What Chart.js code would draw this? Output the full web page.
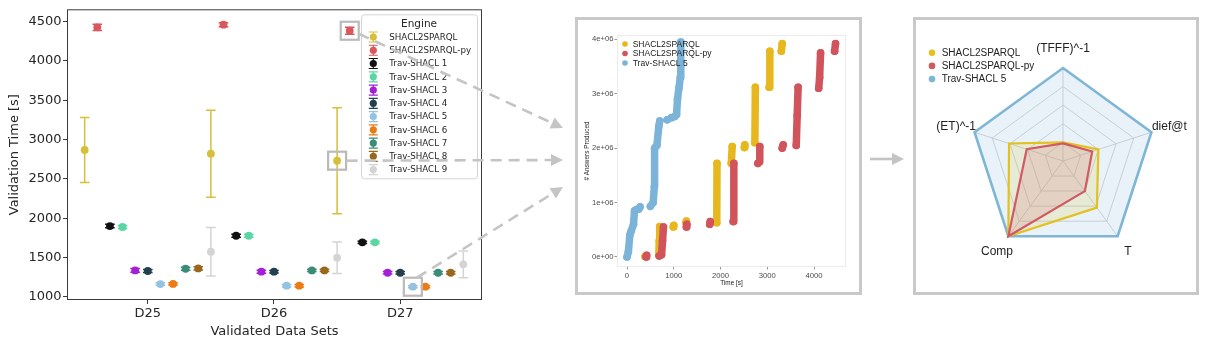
<!DOCTYPE html>
<html><head><meta charset="utf-8">
<script src="https://cdn.jsdelivr.net/npm/chart.js@4.4.1/dist/chart.umd.min.js"></script>
<style>
html,body{margin:0;padding:0;background:#fff;width:1205px;height:343px;overflow:hidden;position:relative}
canvas{display:block}
#c1{position:absolute;left:0;top:0}
.panel{position:absolute;box-sizing:border-box;border:3px solid #c9c9c9;background:#fff}
#p2{left:575px;top:17px;width:287px;height:278px}
#p3{left:913px;top:17px;width:286px;height:278px}
#ov{position:absolute;left:0;top:0;pointer-events:none}
</style></head><body>
<canvas id="c1" width="490" height="343"></canvas>
<div class="panel" id="p2"><canvas id="c2" width="281" height="272"></canvas></div>
<div class="panel" id="p3"><canvas id="c3" width="280" height="272"></canvas></div>
<canvas id="ov" width="1205" height="343"></canvas>
<script>
// ---------- Left panel: validation time per engine ----------
const dataSets = ['D25', 'D26', 'D27'];
const yTicks = [1000, 1500, 2000, 2500, 3000, 3500, 4000, 4500];
const engines = ['SHACL2SPARQL', 'SHACL2SPARQL-py', 'Trav-SHACL 1', 'Trav-SHACL 2', 'Trav-SHACL 3',
  'Trav-SHACL 4', 'Trav-SHACL 5', 'Trav-SHACL 6', 'Trav-SHACL 7', 'Trav-SHACL 8', 'Trav-SHACL 9'];
const engineColors = ['#d6bf3a', '#d9575d', '#111111', '#5ad6a4', '#a41fd8', '#243f4d',
  '#93c2e2', '#ec7b16', '#3a8c79', '#99681c', '#d4d4d4'];
// mean validation time [s] for D25, D26, D27
const timeS2S   = [2867, 2820, 2731];
const timeS2SPy = [4428, 4462, 4385];
const timeTrav1 = [1899, 1776, 1692];
const timeTrav2 = [1887, 1776, 1692];
const timeTrav3 = [1335, 1318, 1305];
const timeTrav4 = [1327, 1318, 1305];
const timeTrav5 = [1161, 1140, 1127];
const timeTrav6 = [1163, 1140, 1127];
const timeTrav7 = [1356, 1335, 1305];
const timeTrav8 = [1360, 1335, 1305];
const timeTrav9 = [1573, 1496, 1412];
// error bar half widths [s]
const errS2S   = [415, 553, 675];
const errS2SPy = [40, 25, 45];
const errTrav1 = [22, 18, 15];
const errTrav2 = [18, 18, 15];
const errTrav3 = [25, 18, 15];
const errTrav4 = [20, 15, 15];
const errTrav5 = [15, 15, 12];
const errTrav6 = [15, 15, 12];
const errTrav7 = [18, 15, 15];
const errTrav8 = [20, 15, 15];
const errTrav9 = [308, 200, 170];

const meanTimes = [timeS2S, timeS2SPy, timeTrav1, timeTrav2, timeTrav3, timeTrav4, timeTrav5, timeTrav6, timeTrav7, timeTrav8, timeTrav9];
const errTimes = [errS2S, errS2SPy, errTrav1, errTrav2, errTrav3, errTrav4, errTrav5, errTrav6, errTrav7, errTrav8, errTrav9];
const highlighted = [[1, 2], [0, 2], [6, 2]]; // [engine index, data set index]

// ---------- Middle panel: answer traces ----------
const timeTicks = [0, 1000, 2000, 3000, 4000];
const answerTicks = [0, 1e6, 2e6, 3e6, 4e6];
const answerTickLabels = ['0e+00', '1e+06', '2e+06', '3e+06', '4e+06'];
// [time s, answers]; [null,null] separates bursts
const traceS2S = [
  [385, 0.01e6], [null, null],
  [680, 0.03e6], [690, 0.3e6], [700, 0.56e6], [null, null],
  [990, 0.55e6], [1000, 0.58e6], [null, null],
  [1260, 0.63e6], [1270, 0.66e6], [null, null],
  [1920, 0.63e6], [1925, 1.72e6], [null, null],
  [2230, 1.72e6], [2250, 2.03e6], [null, null],
  [2510, 2.01e6], [2520, 2.06e6], [null, null],
  [2735, 2.1e6], [2745, 3.12e6], [null, null],
  [3040, 3.12e6], [3055, 3.78e6], [null, null],
  [3300, 3.78e6], [3320, 3.92e6]
];
const traceS2SPy = [
  [410, 0.0], [420, 0.03e6], [null, null],
  [690, 0.02e6], [740, 0.04e6], [760, 0.3e6], [780, 0.55e6], [null, null],
  [1270, 0.55e6], [1280, 0.6e6], [null, null],
  [1770, 0.6e6], [1780, 0.65e6], [null, null],
  [2270, 0.65e6], [2285, 1.72e6], [null, null],
  [2800, 1.72e6], [2830, 1.75e6], [2840, 2.03e6], [null, null],
  [3320, 2.0e6], [3340, 2.06e6], [null, null],
  [3620, 2.05e6], [3640, 2.6e6], [3660, 3.12e6], [null, null],
  [4100, 3.1e6], [4120, 3.3e6], [4140, 3.75e6], [null, null],
  [4440, 3.78e6], [4460, 3.92e6]
];
const traceTrav5 = [
  [0, 0], [30, 0.1e6], [60, 0.4e6], [90, 0.48e6], [140, 0.6e6], [160, 0.85e6], [200, 0.87e6], [null, null],
  [250, 0.88e6], [280, 0.92e6], [null, null],
  [500, 0.93e6], [560, 1.0e6], [585, 1.3e6], [590, 2.0e6], [640, 2.05e6], [680, 2.4e6], [700, 2.5e6], [null, null],
  [860, 2.52e6], [null, null], [950, 2.56e6], [null, null], [1020, 2.58e6], [null, null],
  [1060, 2.62e6], [1080, 2.9e6], [1110, 3.1e6], [1140, 3.3e6], [1150, 3.95e6]
];

// ---------- Right panel: radar ----------
const radarAxes = ['(TFFF)^-1', 'dief@t', 'T', 'Comp', '(ET)^-1'];
const radarS2S   = [0.20, 0.40, 0.62, 1.0, 0.61];
const radarS2SPy = [0.19, 0.33, 0.40, 1.0, 0.41];
const radarTrav5 = [1.0, 1.0, 1.0, 1.0, 1.0];

// ================= Left chart =================
const dodge = engines.map((_, i) => -0.5 + i * 0.1);
const leftDatasets = engines.map((name, i) => ({
  label: name,
  data: dataSets.map((_, j) => ({ x: j + dodge[i], y: meanTimes[i][j] })),
  backgroundColor: engineColors[i],
  borderColor: engineColors[i],
  pointRadius: 3.9, pointHoverRadius: 3.9, pointBorderWidth: 0
}));

const leftDecor = {
  id: 'leftDecor',
  beforeDatasetsDraw(chart) {
    const { ctx, scales: { x, y } } = chart;
    ctx.save();
    ctx.lineWidth = 1.5;
    chart.data.datasets.forEach((ds, i) => {
      ctx.strokeStyle = engineColors[i];
      ds.data.forEach((p, j) => {
        const e = errTimes[i][j];
        const px = x.getPixelForValue(p.x);
        const t = y.getPixelForValue(p.y + e), b = y.getPixelForValue(p.y - e);
        ctx.beginPath();
        ctx.moveTo(px, t); ctx.lineTo(px, b);
        ctx.moveTo(px - 4.8, t); ctx.lineTo(px + 4.8, t);
        ctx.moveTo(px - 4.8, b); ctx.lineTo(px + 4.8, b);
        ctx.stroke();
      });
    });
    ctx.restore();
  },
  afterDraw(chart) {
    const { ctx, chartArea: a } = chart;
    ctx.save();
    // frame
    ctx.strokeStyle = '#3a3a3a'; ctx.lineWidth = 1;
    ctx.strokeRect(a.left + 0.5, a.top + 0.5, a.right - a.left - 1, a.bottom - a.top - 1);
    // highlight boxes
    ctx.strokeStyle = '#bababa'; ctx.lineWidth = 2.2;
    highlighted.forEach(([ei, di]) => {
      const el = chart.getDatasetMeta(ei).data[di];
      ctx.strokeRect(el.x - 9, el.y - 9, 18, 18);
    });
    // legend
    const lx = a.right - 121, ly = a.top + 5, lw = 116, lh = 164;
    ctx.fillStyle = 'rgba(255,255,255,0.85)';
    ctx.strokeStyle = '#d4d4d4'; ctx.lineWidth = 1;
    ctx.beginPath();
    ctx.roundRect(lx + 0.5, ly + 0.5, lw, lh, 3);
    ctx.fill(); ctx.stroke();
    ctx.fillStyle = '#262626';
    ctx.textAlign = 'center'; ctx.textBaseline = 'middle';
    ctx.font = '10.5px "DejaVu Sans"';
    ctx.fillText('Engine', lx + lw / 2, ly + 9.5);
    ctx.textAlign = 'left';
    ctx.font = '8.7px "DejaVu Sans"';
    chart.data.datasets.forEach((ds, i) => {
      const yy = ly + 22.7 + i * 13.26, xx = lx + 12.3;
      ctx.strokeStyle = engineColors[i]; ctx.lineWidth = 1.2;
      ctx.beginPath();
      ctx.moveTo(xx, yy - 5); ctx.lineTo(xx, yy + 5);
      ctx.moveTo(xx - 4.5, yy - 5); ctx.lineTo(xx + 4.5, yy - 5);
      ctx.moveTo(xx - 4.5, yy + 5); ctx.lineTo(xx + 4.5, yy + 5);
      ctx.stroke();
      ctx.fillStyle = engineColors[i];
      ctx.beginPath(); ctx.arc(xx, yy, 3.6, 0, Math.PI * 2); ctx.fill();
      ctx.fillStyle = '#262626';
      ctx.fillText(ds.label, lx + 28.3, yy + 0.5);
    });
    ctx.restore();
  }
};

const leftChart = new Chart(document.getElementById('c1'), {
  type: 'scatter',
  data: { datasets: leftDatasets },
  options: {
    responsive: false, animation: false, events: [],
    layout: { padding: { top: 9, right: 8, left: 0, bottom: 0 } },
    plugins: { legend: { display: false }, tooltip: { enabled: false } },
    scales: {
      x: {
        type: 'linear', min: -0.64, max: 2.648,
        afterBuildTicks: s => { s.ticks = dataSets.map((_, i) => ({ value: i })); },
        afterFit: s => { s.height = 43; },
        ticks: { callback: v => dataSets[v], color: '#262626', font: { family: 'DejaVu Sans', size: 13 }, padding: 2, autoSkip: false, maxRotation: 0 },
        grid: { drawOnChartArea: false, tickLength: 4, color: '#3a3a3a' },
        border: { display: false },
        title: { display: true, text: 'Validated Data Sets', color: '#262626', font: { family: 'DejaVu Sans', size: 13 }, padding: { top: 0, bottom: 4 } }
      },
      y: {
        type: 'linear', min: 958, max: 4658,
        afterBuildTicks: s => { s.ticks = yTicks.map(v => ({ value: v })); },
        afterFit: s => { s.width = 67; },
        ticks: { callback: v => String(v), color: '#262626', font: { family: 'DejaVu Sans', size: 13 }, padding: 1.5, autoSkip: false },
        grid: { drawOnChartArea: false, tickLength: 4, color: '#3a3a3a' },
        border: { display: false },
        title: { display: true, text: 'Validation Time [s]', color: '#262626', font: { family: 'DejaVu Sans', size: 13 }, padding: { top: 7, bottom: 0 } }
      }
    }
  },
  plugins: [leftDecor]
});

// ================= Middle chart =================
const midColors = ['#e6b81d', '#d1545c', '#7bb4d8'];
const midDecor = {
  id: 'midDecor',
  beforeDatasetsDraw(chart) {
    const { ctx, chartArea: a } = chart;
    ctx.save();
    ctx.strokeStyle = '#ececec'; ctx.lineWidth = 1;
    ctx.strokeRect(a.left + 0.5, a.top + 0.5, a.right - a.left - 1, a.bottom - a.top - 1);
    ctx.restore();
  },
  afterDraw(chart) {
    const { ctx, chartArea: a } = chart;
    ctx.save();
    ctx.font = '8.5px "Liberation Sans"';
    ctx.textBaseline = 'middle'; ctx.textAlign = 'left';
    chart.data.datasets.forEach((ds, i) => {
      const yy = a.top + 9 + i * 9.5;
      ctx.fillStyle = midColors[i];
      ctx.beginPath(); ctx.arc(a.left + 8, yy, 2.8, 0, Math.PI * 2); ctx.fill();
      ctx.fillStyle = '#1a1a1a';
      ctx.fillText(ds.label, a.left + 15.7, yy + 0.3);
    });
    ctx.restore();
  }
};
function traceDs(label, trace, color, order) {
  return {
    label, data: trace, showLine: true, spanGaps: false, order,
    borderColor: color, backgroundColor: color,
    borderWidth: 7.5, borderCapStyle: 'round', borderJoinStyle: 'round',
    pointRadius: 3.8, pointHoverRadius: 3.8, pointBorderWidth: 0
  };
}
const midFont = { family: 'Liberation Sans', size: 7.7 };
const midTitleFont = { family: 'Liberation Sans', size: 6.4 };
new Chart(document.getElementById('c2'), {
  type: 'scatter',
  data: { datasets: [
    traceDs('SHACL2SPARQL', traceS2S, midColors[0], 2),
    traceDs('SHACL2SPARQL-py', traceS2SPy, midColors[1], 1),
    traceDs('Trav-SHACL 5', traceTrav5, midColors[2], 0)
  ] },
  options: {
    responsive: false, animation: false, events: [],
    layout: { padding: { top: 15, right: 13, left: 0, bottom: 0 } },
    plugins: { legend: { display: false }, tooltip: { enabled: false } },
    scales: {
      x: {
        type: 'linear', min: -214, max: 4684,
        afterBuildTicks: s => { s.ticks = timeTicks.map(v => ({ value: v })); },
        afterFit: s => { s.height = 25; },
        ticks: { callback: v => String(v), color: '#4d4d4d', font: midFont, padding: 1.5, maxRotation: 0, autoSkip: false },
        grid: { drawOnChartArea: false, tickLength: 2.5, color: '#9a9a9a' },
        border: { display: false },
        title: { display: true, text: 'Time [s]', color: '#222', font: midTitleFont, padding: { top: 0, bottom: 4.5 } }
      },
      y: {
        type: 'linear', min: -184000, max: 4079000,
        afterBuildTicks: s => { s.ticks = answerTicks.map(v => ({ value: v })); },
        afterFit: s => { s.width = 39; },
        ticks: { color: '#4d4d4d', font: midFont, padding: 1, autoSkip: false,
          callback: v => answerTickLabels[answerTicks.indexOf(v)] },
        grid: { drawOnChartArea: false, tickLength: 2.5, color: '#9a9a9a' },
        border: { display: false },
        title: { display: true, text: '# Answers Produced', color: '#222', font: midTitleFont, padding: { top: 5, bottom: 0 } }
      }
    }
  },
  plugins: [midDecor]
});

// ================= Right chart (radar) =================
const radarColors = ['#e3c11f', '#cf5a62', '#7fb6d6'];
const labelOffsets = [[0, -19.5, 'center'], [0.5, -5.5, 'left'], [10.3, 15.5, 'center'], [-11.3, 15.5, 'center'], [1.4, -5.5, 'right']];
const radarDecor = {
  id: 'radarDecor',
  afterDraw(chart) {
    const { ctx } = chart;
    const r = chart.scales.r;
    ctx.save();
    ctx.font = '12px "Liberation Sans"';
    ctx.fillStyle = '#222'; ctx.textBaseline = 'middle';
    chart.data.labels.forEach((lab, i) => {
      const p = r.getPointPosition(i, r.drawingArea);
      const [dx, dy, al] = labelOffsets[i];
      ctx.textAlign = al;
      ctx.fillText(lab, p.x + dx, p.y + dy);
    });
    ctx.font = '10px "Liberation Sans"';
    ctx.textAlign = 'left';
    chart.data.datasets.forEach((ds, i) => {
      const yy = 32.7 + i * 13.2;
      ctx.fillStyle = radarColors[i];
      ctx.beginPath(); ctx.arc(16, yy, 3.3, 0, Math.PI * 2); ctx.fill();
      ctx.fillStyle = '#222';
      ctx.fillText(ds.label, 25.7, yy + 0.5);
    });
    ctx.restore();
  }
};
new Chart(document.getElementById('c3'), {
  type: 'radar',
  data: {
    labels: radarAxes,
    datasets: [
      { label: 'SHACL2SPARQL', data: radarS2S, borderColor: radarColors[0], backgroundColor: 'rgba(227,193,31,0.16)', borderWidth: 2.2, pointRadius: 0, fill: 'origin', order: 2 },
      { label: 'SHACL2SPARQL-py', data: radarS2SPy, borderColor: radarColors[1], backgroundColor: 'rgba(207,90,98,0.16)', borderWidth: 2.2, pointRadius: 0, fill: 'origin', order: 1 },
      { label: 'Trav-SHACL 5', data: radarTrav5, borderColor: radarColors[2], backgroundColor: 'rgba(127,182,214,0.18)', borderWidth: 2.6, pointRadius: 0, fill: 'origin', order: 3 }
    ]
  },
  options: {
    responsive: false, animation: false, events: [],
    layout: { padding: { left: 54, right: 39, top: 47, bottom: 37 } },
    plugins: { legend: { display: false }, tooltip: { enabled: false } },
    elements: { line: { tension: 0 } },
    scales: {
      r: {
        min: 0, max: 1,
        ticks: { display: false, stepSize: 0.2 },
        pointLabels: { display: false },
        grid: { color: '#cfcfcf', lineWidth: 0.9 },
        angleLines: { color: '#cfcfcf', lineWidth: 0.9 }
      }
    }
  },
  plugins: [radarDecor]
});

// ================= Connecting arrows =================
(function () {
  const ctx = document.getElementById('ov').getContext('2d');
  ctx.strokeStyle = '#c4c4c4'; ctx.fillStyle = '#c4c4c4'; ctx.lineWidth = 2.6;
  function arrow(x0, y0, x1, y1, dashed) {
    const ang = Math.atan2(y1 - y0, x1 - x0), hl = 12, hw = 6;
    const bx = x1 - hl * Math.cos(ang), by = y1 - hl * Math.sin(ang);
    ctx.setLineDash(dashed ? [11, 7] : []);
    ctx.beginPath(); ctx.moveTo(x0, y0); ctx.lineTo(bx, by); ctx.stroke();
    ctx.setLineDash([]);
    ctx.beginPath();
    ctx.moveTo(x1, y1);
    ctx.lineTo(bx - hw * Math.sin(ang), by + hw * Math.cos(ang));
    ctx.lineTo(bx + hw * Math.sin(ang), by - hw * Math.cos(ang));
    ctx.closePath(); ctx.fill();
  }
  const e1 = leftChart.getDatasetMeta(1).data[2];
  const e2 = leftChart.getDatasetMeta(0).data[2];
  const e3 = leftChart.getDatasetMeta(6).data[2];
  arrow(e1.x + 9, e1.y + 3, 563, 128, true);
  arrow(e2.x + 9.5, e2.y, 563, 160, true);
  arrow(e3.x + 4, e3.y - 9, 563, 187, true);
  arrow(870, 159, 904, 159, false);
})();
</script>
</body></html>
